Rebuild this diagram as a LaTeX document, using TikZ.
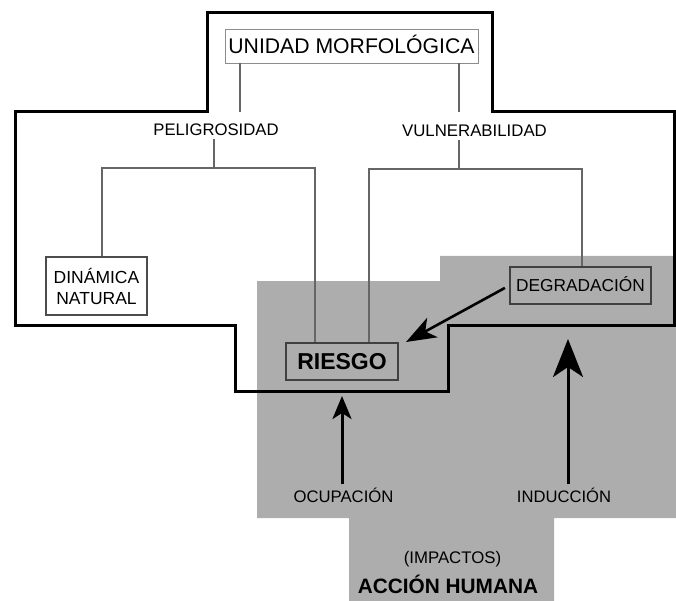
\documentclass[tikz,border=0pt]{standalone}
\usepackage{fontspec}
\setmainfont{Liberation Sans}
\usetikzlibrary{arrows.meta}
\definecolor{humangray}{rgb}{0.68,0.68,0.68}
\definecolor{linegray}{rgb}{0.40,0.40,0.40}
\definecolor{boxgray}{rgb}{0.55,0.55,0.55}
\newcommand\setfs[1]{\fontsize{#1}{#1}\selectfont}
\begin{document}
\begin{tikzpicture}[x=1pt,y=-1pt,
  outline/.style={draw=black,line width=3pt,line join=miter},
  conn/.style={draw=linegray,line width=1.2pt},
  lightbox/.style={draw=boxgray,line width=0.9pt,inner sep=0pt,text depth=0pt},
  darkbox/.style={draw=black!75,line width=1.4pt,inner sep=0pt,text depth=0pt},
  lbl/.style={inner sep=3pt,anchor=base},
  arr/.style={draw=black,line width=3pt}]
\useasboundingbox (0,0) rectangle (676,601);
% grey area (human action)
\fill[humangray] (440,256) -- (676,256) -- (676,518) -- (554,518) -- (554,601)
  -- (349,601) -- (349,518) -- (257,518) -- (257,281) -- (440,281) -- cycle;
% thick outline (morphological unit)
\draw[outline] (207,13) -- (492,13) -- (492,112) -- (674,112) -- (674,325)
  -- (448,325) -- (448,391) -- (235,391) -- (235,325) -- (15,325) -- (15,112)
  -- (207,112) -- cycle;
% nodes
\node[lightbox,minimum width=253pt,minimum height=34pt,text height=15pt,
  font=\setfs{21.2}] (unidad) at (351.5,46) {UNIDAD MORFOLÓGICA};
\node[lbl,font=\setfs{16.7}] (peli) at (216,136) {PELIGROSIDAD};
\node[lbl,font=\setfs{16.8}] (vul) at (474.5,137) {VULNERABILIDAD};
\node[darkbox,draw=black!70,line width=1.1pt,minimum width=101pt,minimum height=58pt,
  align=center,font=\fontsize{17.5}{21}\selectfont] (din) at (96.5,286)
  {DINÁMICA\\NATURAL};
\node[darkbox,minimum width=141pt,minimum height=37pt,text height=12.5pt,
  font=\setfs{17.3}] (degr) at (580.5,285.5) {DEGRADACIÓN};
\node[darkbox,minimum width=112pt,minimum height=37pt,text height=16.5pt,
  font=\setfs{23}\bfseries] (riesgo) at (342,361.5) {RIESGO};
\node[lbl,font=\setfs{16.7}] (ocup) at (343.5,502) {OCUPACIÓN};
\node[lbl,font=\setfs{16.6}] (induc) at (564,502) {INDUCCIÓN};
\node[lbl,font=\setfs{16.8}] (impac) at (452.5,563) {(IMPACTOS)};
\node[lbl,font=\setfs{20.8}\bfseries] (accion) at (448,593) {ACCIÓN HUMANA};
% connectors
\coordinate (pl) at (240,112);
\coordinate (vl) at (459,112);
\coordinate (pj) at (214,168);
\coordinate (vj) at (459,169);
\draw[conn] (unidad.south -| pl) -- (pl);
\draw[conn] (unidad.south -| vl) -- (vl);
\draw[conn] (peli.south -| pj) -- (pj);
\draw[conn] (din.north -| 102,0) |- (pj) -| (riesgo.north -| 315,0);
\draw[conn] (vul.south -| vj) -- (vj);
\draw[conn] (riesgo.north -| 369,0) |- (vj) -| (degr.north -| 582,0);
% arrows
\coordinate (rt) at (406,342);
\coordinate (ot) at (342,396);
\coordinate (it) at (568,339);
\draw[arr,line width=2.6pt,-{Stealth[length=30pt,width=22pt,inset=8pt]},shorten <=5pt]
  (degr.west) -- (rt);
\draw[arr,-{Stealth[length=23pt,width=19pt,inset=6pt]}] (ocup.north -| ot) -- (ot);
\draw[arr,-{Stealth[length=38pt,width=30pt,inset=10pt]}] (induc.north -| it) -- (it);
\end{tikzpicture}
\end{document}
